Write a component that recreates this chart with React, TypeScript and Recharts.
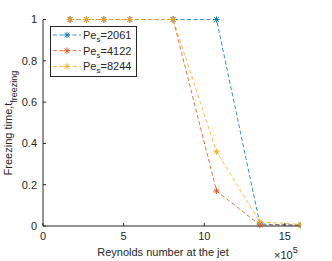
import { LineChart, Line, XAxis, YAxis } from 'recharts';

const REYNOLDS = [1.68, 2.69, 3.77, 5.38, 8.07, 10.76, 13.45, 16];
const PE_2061 = [1, 1, 1, 1, 1, 1, 0.01, 0.003];
const PE_4122 = [1, 1, 1, 1, 1, 0.17, 0.005, 0.005];
const PE_8244 = [1, 1, 1, 1, 1, 0.36, 0.02, 0.008];
const X_TICKS = [0, 5, 10, 15];
const Y_TICKS = [0, 0.2, 0.4, 0.6, 0.8, 1];

const SERIES = [
  { key: 'a', pe: '2061', color: '#0072BD' },
  { key: 'b', pe: '4122', color: '#D95319' },
  { key: 'c', pe: '8244', color: '#EDB120' },
];

const data = REYNOLDS.map((x, i) => ({ x, a: PE_2061[i], b: PE_4122[i], c: PE_8244[i] }));

const FONT = '"Liberation Sans", Arial, sans-serif';
const AXIS = '#262626';

function Star({ cx, cy, color }: { cx: number; cy: number; color: string }) {
  const r = 3.2;
  const d = r * 0.72;
  return (
    <g stroke={color} strokeWidth={0.9}>
      <line x1={cx - r} y1={cy} x2={cx + r} y2={cy} />
      <line x1={cx} y1={cy - r} x2={cx} y2={cy + r} />
      <line x1={cx - d} y1={cy - d} x2={cx + d} y2={cy + d} />
      <line x1={cx - d} y1={cy + d} x2={cx + d} y2={cy - d} />
    </g>
  );
}

function LegendBox() {
  return (
    <div
      style={{
        position: 'absolute',
        left: 50,
        top: 26,
        border: `1px solid ${AXIS}`,
        background: '#fff',
        width: 87,
        height: 51,
        boxSizing: 'border-box',
      }}
    >
      <svg width={85} height={49} style={{ display: 'block' }}>
        {SERIES.map((s, i) => {
          const y = 8 + i * 15.7;
          return (
            <g key={s.key}>
              <line x1={2} y1={y} x2={30} y2={y} stroke={s.color} strokeWidth={0.8} strokeDasharray="4 2.5" />
              <Star cx={16} cy={y} color={s.color} />
              <text x={32} y={y + 4} fontSize={11} fontFamily={FONT} fill={AXIS}>
                Pe
                <tspan fontSize={8} dy={3}>s</tspan>
                <tspan dy={-3}>={s.pe}</tspan>
              </text>
            </g>
          );
        })}
      </svg>
    </div>
  );
}

export default function App() {
  return (
    <div style={{ position: 'fixed', left: 0, top: 0, width: 332, height: 261, background: '#fff' }}>
      <LineChart width={332} height={261} data={data} margin={{ top: 19.5, right: 31, bottom: 0, left: 0 }}>
        <XAxis
          dataKey="x"
          type="number"
          domain={[0, 16]}
          ticks={X_TICKS}
          allowDataOverflow
          height={35}
          stroke={AXIS}
          tickSize={-3}
          tickMargin={9}
          tick={{ fill: AXIS, fontSize: 11, fontFamily: FONT }}
        />
        <XAxis xAxisId="top" dataKey="x" type="number" domain={[0, 16]} ticks={X_TICKS} orientation="top" height={0} stroke={AXIS} tickSize={-3} tick={false} />
        <YAxis
          type="number"
          domain={[0, 1]}
          ticks={Y_TICKS}
          width={43}
          stroke={AXIS}
          tickSize={-3}
          tickMargin={9}
          tick={{ fill: AXIS, fontSize: 11, fontFamily: FONT }}
        />
        <YAxis yAxisId="right" type="number" domain={[0, 1]} ticks={Y_TICKS} orientation="right" width={0} stroke={AXIS} tickSize={-3} tick={false} />
        {SERIES.map((s) => (
          <Line
            key={s.key}
            dataKey={s.key}
            type="linear"
            stroke={s.color}
            strokeWidth={0.8}
            strokeDasharray="4 2.5"
            isAnimationActive={false}
            dot={(p: any) => <Star key={`${s.key}-${p.index}`} cx={p.cx} cy={p.cy} color={s.color} />}
            activeDot={false}
          />
        ))}
      </LineChart>
      <LegendBox />
      <svg width={332} height={261} style={{ position: 'absolute', left: 0, top: 0, pointerEvents: 'none' }}>
        <text x={163} y={256} textAnchor="middle" fontSize={11} fontFamily={FONT} fill={AXIS}>
          Reynolds number at the jet
        </text>
        <text x={274} y={259} fontSize={11} fontFamily={FONT} fill={AXIS}>
          ×10
          <tspan fontSize={9} dy={-6}>5</tspan>
        </text>
        <text transform="translate(12,123) rotate(-90)" textAnchor="middle" fontSize={11} fontFamily={FONT} fill={AXIS}>
          Freezing time,t
          <tspan fontSize={9} dy={5}>freezing</tspan>
        </text>
      </svg>
    </div>
  );
}
